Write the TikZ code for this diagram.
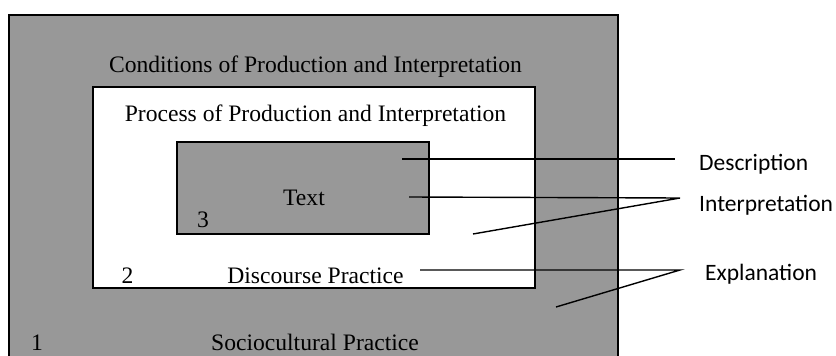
\documentclass[tikz,border=0pt]{standalone}
\usepackage{fontspec}
\setmainfont{Liberation Serif}
\newfontfamily\labelfont{Carlito}
\definecolor{boxgray}{RGB}{152,152,152}
\tikzset{
  frame/.style={draw=black, line width=1.3pt},
  serif/.style={font=\fontsize{23.6}{26}\selectfont, inner sep=0pt, anchor=base},
  lbl/.style={font=\labelfont\fontsize{23.5}{26}\selectfont, inner sep=0pt, anchor=base west},
  conn/.style={draw=black, line width=1.4pt}
}
\begin{document}
\begin{tikzpicture}[x=1pt,y=-1pt]
\useasboundingbox (0,0) rectangle (836,356);
\clip (0,0) rectangle (836,356);
\fill[white] (0,0) rectangle (836,356);
% boxes
\draw[frame, fill=boxgray] (9,15) rectangle (618,364);
\draw[frame, fill=white] (93,87) rectangle (535,288);
\draw[frame, fill=boxgray] (177,142) rectangle (429,234);
% texts
\node[serif] (cond) at (315.5,72) {Conditions of Production and Interpretation};
\node[serif] (proc) at (315.5,121.5) {Process of Production and Interpretation};
\node[serif] (text) at (304,205) {Text};
\node[serif] (n3) at (203,227) {3};
\node[serif] (n2) at (127.5,283) {2};
\node[serif] (disc) at (315.5,283) {Discourse Practice};
\node[serif] (n1) at (37,350) {1};
\node[serif] (soc) at (315,350) {Sociocultural Practice};
% labels
\node[lbl] (desc) at (699,170) {Description};
\node[lbl] (interp) at (699,211) {Interpretation};
\node[lbl] (expl) at (705,280) {Explanation};
% connector points
\coordinate (d1) at (402,159);
\coordinate (d2) at (675,159);
\coordinate (i1) at (409,197);
\coordinate (i2) at (473,234);
\coordinate (ij) at (680,198);
\coordinate (e1) at (420,270);
\coordinate (e2) at (556,307);
\coordinate (ej) at (680,270);
\draw[conn] (d1) -- (d2);
\draw[conn] (i1) -- (ij) -- (i2);
\draw[conn] (e1) -- (ej) -- (e2);
\end{tikzpicture}
\end{document}
